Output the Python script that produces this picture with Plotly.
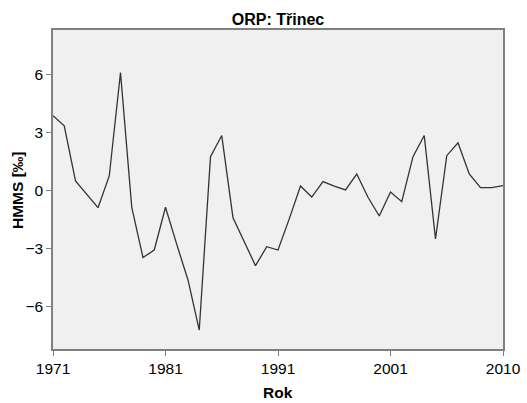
import plotly.graph_objects as go

period_index = list(range(41))
hmms = [3.86, 3.33, 0.48, -0.22, -0.90, 0.74, 6.09, -0.88, -3.48, -3.09,
        -0.88, -2.80, -4.64, -7.23, 1.74, 2.83, -1.42, -2.66, -3.90, -2.92,
        -3.09, -1.48, 0.22, -0.35, 0.45, 0.22, 0.02, 0.84, -0.36, -1.33,
        -0.09, -0.59, 1.74, 2.83, -2.52, 1.79, 2.46, 0.84, 0.14, 0.14, 0.24]
x_tickvals = [0, 10, 20, 30, 40]
x_ticktext = ["1971", "1981", "1991", "2001", "2010"]
y_tickvals = [-6, -3, 0, 3, 6]

font_family = "Liberation Sans, Arial, sans-serif"
W, H = 527, 403
L, R, T, B = 53, 24, 30, 54

fig = go.Figure()
fig.add_trace(go.Scatter(
    x=period_index, y=hmms, mode="lines",
    line=dict(color="#333333", width=1.3),
    hoverinfo="skip", showlegend=False,
))

fig.update_layout(
    width=W, height=H,
    margin=dict(l=L, r=R, t=T, b=B, autoexpand=False),
    paper_bgcolor="white",
    plot_bgcolor="#F0F0F0",
    font=dict(family=font_family, size=15.5, color="black"),
    title=dict(text="<b>ORP: Třinec</b>", x=0.5, xanchor="center",
               xref="paper", y=1 - 19.5 / H, yanchor="middle",
               font=dict(size=16, family=font_family, color="black")),
)
fig.update_xaxes(
    range=[0, 40], tickvals=x_tickvals, ticktext=x_ticktext,
    showgrid=False, zeroline=False, automargin=False,
    showline=True, linecolor="#808080", linewidth=1.5, mirror=True,
    ticks="outside", ticklen=5, tickcolor="#808080", tickwidth=1,
    tickfont=dict(size=15.5),
)
fig.update_yaxes(
    range=[-8.21, 8.29], tickvals=y_tickvals,
    showgrid=False, zeroline=False, automargin=False,
    showline=True, linecolor="#808080", linewidth=1.5, mirror=True,
    ticks="outside", ticklen=5, tickcolor="#808080", tickwidth=1,
    tickfont=dict(size=15.5),
)

fig.add_annotation(
    text="<b>Rok</b>", xref="paper", yref="paper",
    x=0.5, y=-(392 - (H - B)) / (H - T - B),
    xanchor="center", yanchor="middle", showarrow=False,
    font=dict(size=15.5, family=font_family, color="black"),
)
fig.add_annotation(
    text="<b>HMMS [‰]</b>", xref="paper", yref="paper",
    x=-(L - 18) / (W - L - R), y=(H - B - 190) / (H - T - B),
    xanchor="center", yanchor="middle", showarrow=False, textangle=-90,
    font=dict(size=15.5, family=font_family, color="black"),
)

fig.write_html(
    "out.html",
    config={"displayModeBar": False},
    post_script="document.body.style.margin='0';document.body.style.overflow='hidden';",
)
